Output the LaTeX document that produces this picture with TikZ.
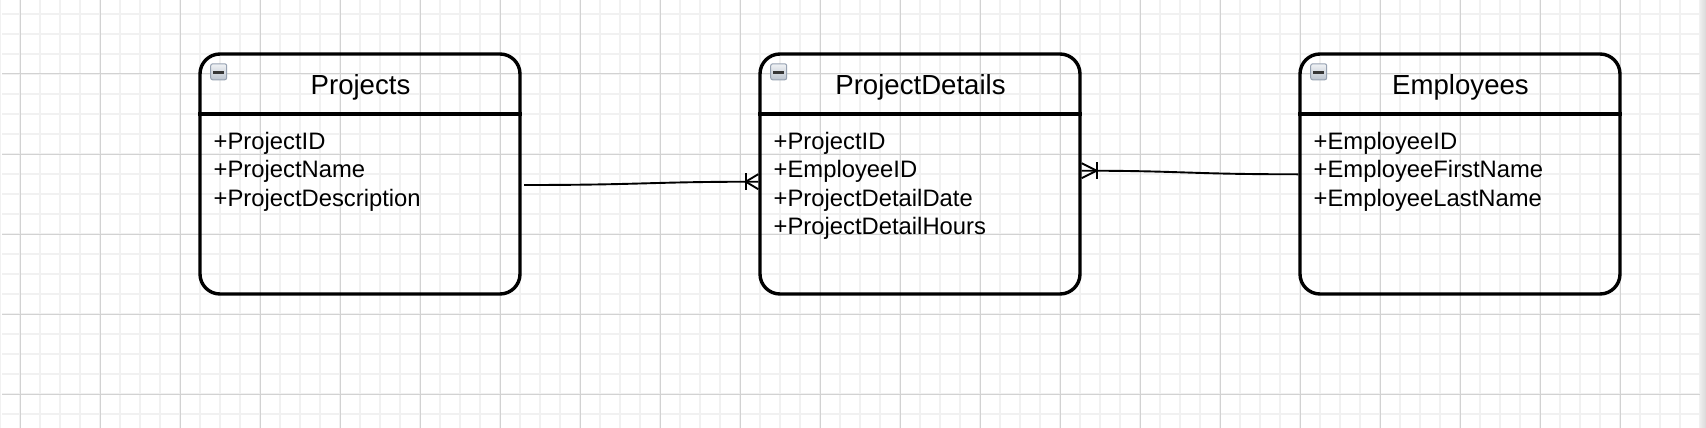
\documentclass[tikz,border=0pt]{standalone}
\usepackage{fontspec}
\setmainfont{Liberation Sans}
\usetikzlibrary{calc}
\definecolor{minorgrid}{HTML}{F1F1F1}
\definecolor{majorgrid}{HTML}{D2D2D2}
\definecolor{iconborder}{HTML}{97A2B2}
\definecolor{icontop}{HTML}{F0F2F5}
\definecolor{iconbot}{HTML}{BCC4CF}
\definecolor{icondash}{HTML}{363636}
\definecolor{stripl}{HTML}{EDEDED}
\definecolor{stripr}{HTML}{D9D9D9}
\begin{document}
\begin{tikzpicture}[x=1pt,y=-1pt,
  minorline/.style={draw=minorgrid, line width=2pt},
  majorline/.style={draw=majorgrid, line width=1pt},
  entity/.style={draw=black, line width=3.4pt, rounded corners=20pt,
    minimum width=320pt, minimum height=240pt, inner sep=0pt},
  sepline/.style={draw=black, line width=3.4pt},
  entitytitle/.style={font=\fontsize{27.6}{33}\selectfont, anchor=base, inner sep=0pt},
  attr/.style={font=\fontsize{23.8}{28.3}\selectfont, anchor=base west, inner sep=0pt},
  icon/.style={draw=iconborder, line width=1pt, rounded corners=2pt,
    top color=icontop, bottom color=iconbot, minimum size=16pt, inner sep=0pt},
  minusbar/.style={draw=icondash, line width=2.8pt},
  rel/.style={draw=black, line width=1.9pt}]
\useasboundingbox (0,0) rectangle (1706,428);
\fill[white] (0,0) rectangle (1706,428);
% grid
\foreach \x in {0,20,...,1700} \draw[minorline] (\x,0) -- (\x,428);
\foreach \y in {-6,14,...,428} \draw[minorline] (2,\y) -- (1700,\y);
\foreach \x in {20,100,...,1700} \draw[majorline] (\x,0) -- (\x,428);
\foreach \y in {74,154,...,428} \draw[majorline] (2,\y) -- (1700,\y);
\shade[left color=stripl, right color=stripr] (1700,0) rectangle (1706,428);

% entities
\node[entity] (projects) at (360,174) {};
\node[entity] (details) at (920,174) {};
\node[entity] (employees) at (1460,174) {};

\draw[sepline] (projects.west |- 0,114) -- (projects.east |- 0,114);
\draw[sepline] (details.west |- 0,114) -- (details.east |- 0,114);
\draw[sepline] (employees.west |- 0,114) -- (employees.east |- 0,114);

% icons
\node[icon] (projects-icon) at (218.7,71.8) {};
\node[icon] (details-icon) at (778.7,71.8) {};
\node[icon] (employees-icon) at (1318.7,71.8) {};
\draw[minusbar] ($(projects-icon.center)+(-5.5,0.5)$) -- ($(projects-icon.center)+(5.5,0.5)$);
\draw[minusbar] ($(details-icon.center)+(-5.5,0.5)$) -- ($(details-icon.center)+(5.5,0.5)$);
\draw[minusbar] ($(employees-icon.center)+(-5.5,0.5)$) -- ($(employees-icon.center)+(5.5,0.5)$);

% titles
\node[entitytitle] (projects-title) at (360.5,95) {Projects};
\node[entitytitle] (details-title) at (920.5,95) {ProjectDetails};
\node[entitytitle] (employees-title) at (1460.5,95) {Employees};

% attributes
\node[attr] (p1) at (213.5,149.3) {+ProjectID};
\node[attr] (p2) at (213.5,177.6) {+ProjectName};
\node[attr] (p3) at (213.5,206.0) {+ProjectDescription};

\node[attr] (d1) at (773.5,149.3) {+ProjectID};
\node[attr] (d2) at (773.5,177.6) {+EmployeeID};
\node[attr] (d3) at (773.5,206.0) {+ProjectDetailDate};
\node[attr] (d4) at (773.5,234.3) {+ProjectDetailHours};

\node[attr] (e1a) at (1313.5,149.3) {+EmployeeID};
\node[attr] (e2a) at (1313.5,177.6) {+EmployeeFirstName};
\node[attr] (e3a) at (1313.5,206.0) {+EmployeeLastName};

% relationship Projects -- ProjectDetails
\coordinate (s1) at ($(projects.east)+(2.3,11)$);
\coordinate (t1) at ($(details.west)+(0,7.7)$);
\draw[rel] (s1) .. controls +(120,0) and +(-110,0) .. (t1);
\draw[rel] ($(t1)+(-12.5,-8.5)$) -- ($(t1)+(-12.5,8.5)$);
\draw[rel] ($(t1)+(0,-7.5)$) -- ($(t1)+(-12.5,0)$) -- ($(t1)+(0,7.5)$);

% relationship Employees -- ProjectDetails
\coordinate (s2) at ($(employees.west)+(0,0.3)$);
\coordinate (t2) at ($(details.east)+(0,-3.3)$);
\draw[rel] (s2) .. controls +(-110,0) and +(100,0) .. (t2);
\draw[rel] ($(t2)+(15,-8.5)$) -- ($(t2)+(15,8.5)$);
\draw[rel] ($(t2)+(0,-7.5)$) -- ($(t2)+(15,0)$) -- ($(t2)+(0,7.5)$);
\end{tikzpicture}
\end{document}
